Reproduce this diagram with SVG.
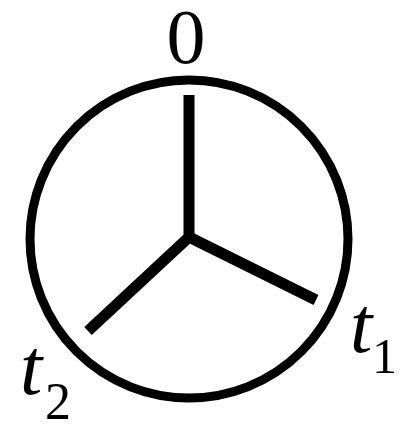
<svg xmlns="http://www.w3.org/2000/svg" width="400" height="425" viewBox="0 0 400 425">
<style>
.ring{fill:none;stroke:#000;stroke-width:9}
.arm{fill:none;stroke:#000;stroke-width:11;stroke-linecap:butt;stroke-linejoin:miter}
.lbl{font-family:"Liberation Serif","Times New Roman",serif;fill:#000}
.it{font-style:italic}
</style>
<rect width="400" height="425" fill="#fff"/>
<g id="circle"><circle class="ring" cx="189" cy="239" r="159"/></g>
<g id="connectors">
<path class="arm" d="M189,95 L189,237 L88,331"/>
<path class="arm" d="M189,237 L316,300"/>
</g>
<g id="label-0"><text class="lbl" x="186" y="63" font-size="78" text-anchor="middle">0</text></g>
<g id="label-t1"><text class="lbl" x="350" y="352" font-size="80"><tspan class="it">t</tspan></text><text class="lbl" x="372" y="373" font-size="50">1</text></g>
<g id="label-t2"><text class="lbl" x="20" y="394" font-size="80"><tspan class="it">t</tspan></text><text class="lbl" x="45" y="419" font-size="52">2</text></g>
</svg>
